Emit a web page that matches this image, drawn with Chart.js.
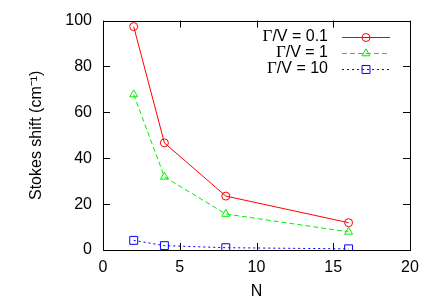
<!DOCTYPE html>
<html><head><meta charset="utf-8">
<script src="https://cdn.jsdelivr.net/npm/chart.js@4/dist/chart.umd.min.js"></script>
<style>html,body{margin:0;padding:0;background:#fff}#wrap{width:436px;height:305px}</style>
</head><body><div id="wrap"><canvas id="c" width="436" height="305"></canvas></div>
<script>
const nValues = [2, 4, 8, 16];
const seriesLabels = ['0.1', '1', '10'];
const shiftLow = [97.4, 46.7, 23.5, 11.9];   // Γ/V = 0.1
const shiftMid = [67.8, 31.9, 15.7, 7.9];    // Γ/V = 1
const shiftHigh = [4.2, 1.9, 1.0, 0.5];      // Γ/V = 10
const xTicks = [0, 5, 10, 15, 20];
const yTicks = [0, 20, 40, 60, 80, 100];

const FONT = "'Liberation Sans', Arial, Helvetica, sans-serif";
const series = [shiftLow, shiftMid, shiftHigh];
const colors = ['#ff0000', '#00ee00', '#0000ff'];
const dashes = [[], [5, 3], [2, 3]];
const styles = ['circle', 'triangle', 'rect'];
const radii = [4, 4.6, 5.6];

const datasets = series.map((vals, i) => ({
  label: 'Γ/V = ' + seriesLabels[i],
  data: nValues.map((n, j) => ({x: n, y: vals[j]})),
  borderColor: colors[i],
  backgroundColor: 'rgba(0,0,0,0)',
  borderWidth: 1,
  borderDash: dashes[i],
  pointStyle: styles[i],
  pointRadius: radii[i],
  pointBorderColor: colors[i],
  pointBackgroundColor: 'rgba(0,0,0,0)',
  pointBorderWidth: 1,
  tension: 0,
  fill: false
}));

const framePlugin = {
  id: 'frame',
  afterDraw(chart) {
    const ctx = chart.ctx, a = chart.chartArea;
    const xs = chart.scales.x, ys = chart.scales.y;
    ctx.save();
    ctx.strokeStyle = '#000';
    ctx.lineWidth = 1;
    ctx.setLineDash([]);
    ctx.strokeRect(Math.round(a.left) + 0.5, Math.round(a.top) + 0.5, Math.round(a.right - a.left), Math.round(a.bottom - a.top));
    const L = 7;
    ctx.beginPath();
    xTicks.forEach(v => {
      const px = Math.round(xs.getPixelForValue(v)) + 0.5;
      ctx.moveTo(px, a.bottom); ctx.lineTo(px, a.bottom - L);
      ctx.moveTo(px, a.top); ctx.lineTo(px, a.top + L);
    });
    yTicks.forEach(v => {
      const py = Math.round(ys.getPixelForValue(v)) + 0.5;
      ctx.moveTo(a.left, py); ctx.lineTo(a.left + L, py);
      ctx.moveTo(a.right, py); ctx.lineTo(a.right - L, py);
    });
    ctx.stroke();

    // legend
    const textRight = 328, lineL = 342, lineR = 390;
    const rowY = [36.5, 52.5, 69];
    chart.data.datasets.forEach((ds, i) => {
      const y = rowY[i];
      ctx.fillStyle = '#000';
      ctx.textBaseline = 'middle';
      const rest = '/V = ' + seriesLabels[i];
      ctx.font = '16px ' + FONT;
      const wRest = ctx.measureText(rest).width;
      ctx.textAlign = 'right';
      ctx.fillText(rest, textRight, y);
      ctx.font = '17px "Liberation Serif", "Times New Roman", serif';
      ctx.fillText('Γ', textRight - wRest, y);
      ctx.strokeStyle = ds.borderColor;
      ctx.lineWidth = 1;
      ctx.setLineDash(ds.borderDash);
      ctx.beginPath();
      ctx.moveTo(lineL, Math.round(y) + 0.5);
      ctx.lineTo(lineR, Math.round(y) + 0.5);
      ctx.stroke();
      ctx.setLineDash([]);
      ctx.fillStyle = 'rgba(0,0,0,0)';
      Chart.helpers.drawPoint(ctx, {pointStyle: ds.pointStyle, radius: ds.pointRadius, rotation: 0, borderWidth: 1}, (lineL + lineR) / 2, Math.round(y) + 0.5);
    });
    ctx.restore();
  }
};

new Chart(document.getElementById('c'), {
  type: 'line',
  data: {datasets},
  options: {
    responsive: false,
    animation: false,
    devicePixelRatio: 1,
    layout: {padding: {top: 20, right: 26, left: 0, bottom: 0}},
    plugins: {legend: {display: false}, tooltip: {enabled: false}},
    scales: {
      x: {
        type: 'linear', min: 0, max: 20,
        afterBuildTicks: s => { s.ticks = xTicks.map(v => ({value: v})); },
        afterFit: s => { s.height = 55; },
        grid: {display: false, drawTicks: false},
        border: {display: false},
        ticks: {color: '#000', font: {family: FONT, size: 16}, padding: 8, maxRotation: 0},
        title: {display: true, text: 'N', color: '#000', font: {family: FONT, size: 16}, padding: {top: 7}}
      },
      y: {
        type: 'linear', min: 0, max: 100,
        afterBuildTicks: s => { s.ticks = yTicks.map(v => ({value: v})); },
        afterFit: s => { s.width = 103; },
        grid: {display: false, drawTicks: false},
        border: {display: false},
        ticks: {color: '#000', font: {family: FONT, size: 16}, padding: 11},
        title: {display: true, text: 'Stokes shift (cm⁻¹)', color: '#000', font: {family: FONT, size: 16}, padding: {top: 27, bottom: 0}}
      }
    }
  },
  plugins: [framePlugin]
});
</script></body></html>
